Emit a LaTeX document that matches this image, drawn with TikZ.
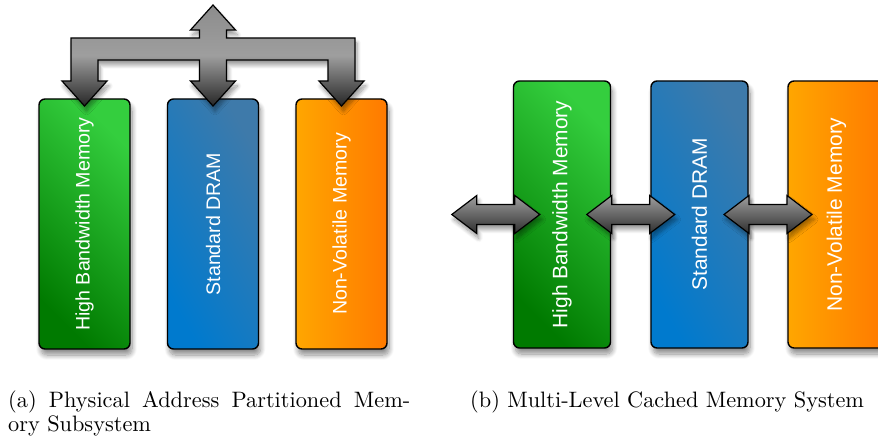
\documentclass[tikz,border=0pt]{standalone}
\usepackage{fontspec}
\setsansfont{Liberation Sans}
\usetikzlibrary{calc,shadows.blur}

\definecolor{hbmdark}{RGB}{0,122,0}
\definecolor{hbmlight}{RGB}{52,206,62}
\definecolor{dramleft}{RGB}{0,122,206}
\definecolor{dramright}{RGB}{62,122,170}
\definecolor{nvmleft}{RGB}{255,166,0}
\definecolor{nvmright}{RGB}{255,122,0}

\newcommand{\boxwA}{91pt}
\newcommand{\boxhA}{250pt}
\newcommand{\boxwB}{97pt}
\newcommand{\boxhB}{267pt}
\newcommand{\capscale}{2.23}

\tikzset{
  membox/.style={draw=black, line width=1.4pt, rounded corners=6pt, inner sep=0pt,
    text=white, align=center,
    blur shadow={shadow xshift=2pt, shadow yshift=-6pt, shadow blur radius=5pt,
      shadow blur steps=10, shadow opacity=45}},
  boxA/.style={membox, minimum width=\boxwA, minimum height=\boxhA,
    font=\sffamily\fontsize{19.6}{20}\selectfont},
  boxB/.style={membox, minimum width=\boxwB, minimum height=\boxhB,
    font=\sffamily\fontsize{20.9}{21}\selectfont},
  hbmfill/.style={top color=hbmlight, bottom color=hbmdark, shading angle=-45},
  dramfill/.style={top color=dramright, bottom color=dramleft, shading angle=-60},
  nvmfill/.style={left color=nvmleft, right color=nvmright},
  arrowbody/.style={draw=black, line width=1.2pt, line join=miter,
    blur shadow={shadow xshift=2pt, shadow yshift=-5pt, shadow blur radius=4pt,
      shadow blur steps=8, shadow opacity=40}},
  busarrow/.style={arrowbody, top color=black!45, bottom color=black!85, middle color=black!38},
  linkarrow/.style={arrowbody, top color=black!38, bottom color=black!82},
  caption/.style={inner sep=0pt, anchor=base west},
}

\newcommand{\twoway}[1]{
  \draw[linkarrow] (#1) ++(-44,0) -- ++(25,-19) -- ++(0,9) -- ++(38,0) -- ++(0,-9)
    -- ++(25,19) -- ++(-25,19) -- ++(0,-9) -- ++(-38,0) -- ++(0,9) -- cycle;
}

\begin{document}
\begin{tikzpicture}[x=1pt, y=-1pt]
  \useasboundingbox (0,0) rectangle (878,438);
  \clip (0,0) rectangle (878,438);

  \node[boxA, hbmfill] (hbmA) at (84.5,224) {\rotatebox{90}{High Bandwidth Memory}};
  \node[boxA, dramfill] (dramA) at (213,224) {\rotatebox{90}{Standard DRAM}};
  \node[boxA, nvmfill] (nvmA) at (341.5,224) {\rotatebox{90}{Non-Volatile Memory}};

  \coordinate (up) at (213,5);
  \coordinate (tipA) at (84.5,106);
  \coordinate (tipB) at (213,106);
  \coordinate (tipC) at (341.5,106);

  \draw[busarrow] (up) -- (235.5,30) -- (226.5,30) -- (226.5,38) -- (355,38) -- (355,81)
    -- (364,81) -- (tipC) -- (319,81) -- (328,81) -- (328,60) -- (226.5,60)
    -- (226.5,81) -- (235.5,81) -- (tipB) -- (190.5,81) -- (199.5,81) -- (199.5,60)
    -- (98,60) -- (98,81) -- (107,81) -- (tipA) -- (62,81) -- (71,81) -- (71,38)
    -- (199.5,38) -- (199.5,30) -- (190.5,30) -- cycle;

  \node[boxB, hbmfill] (hbmB) at (562,214.5) {\rotatebox{90}{High Bandwidth Memory}};
  \node[boxB, dramfill] (dramB) at (699.5,214.5) {\rotatebox{90}{Standard DRAM}};
  \node[boxB, nvmfill] (nvmB) at (836.5,214.5) {\rotatebox{90}{Non-Volatile Memory}};

  \coordinate (lnk0) at ($(hbmB.west)+(-17,0)$);
  \coordinate (lnk1) at ($(hbmB.east)!0.5!(dramB.west)$);
  \coordinate (lnk2) at ($(dramB.east)!0.5!(nvmB.west)$);
  \twoway{lnk0}
  \twoway{lnk1}
  \twoway{lnk2}

  \node[caption] (capA) at (8,407)
    {\scalebox{\capscale}{\parbox[t]{180.3pt}{\fontsize{10}{10.9}\selectfont
      (a) Physical Address Partitioned Mem-\linebreak ory Subsystem}}};
  \node[caption] (capB) at (470,407)
    {\scalebox{\capscale}{(b) Multi-Level Cached Memory System}};
\end{tikzpicture}
\end{document}
